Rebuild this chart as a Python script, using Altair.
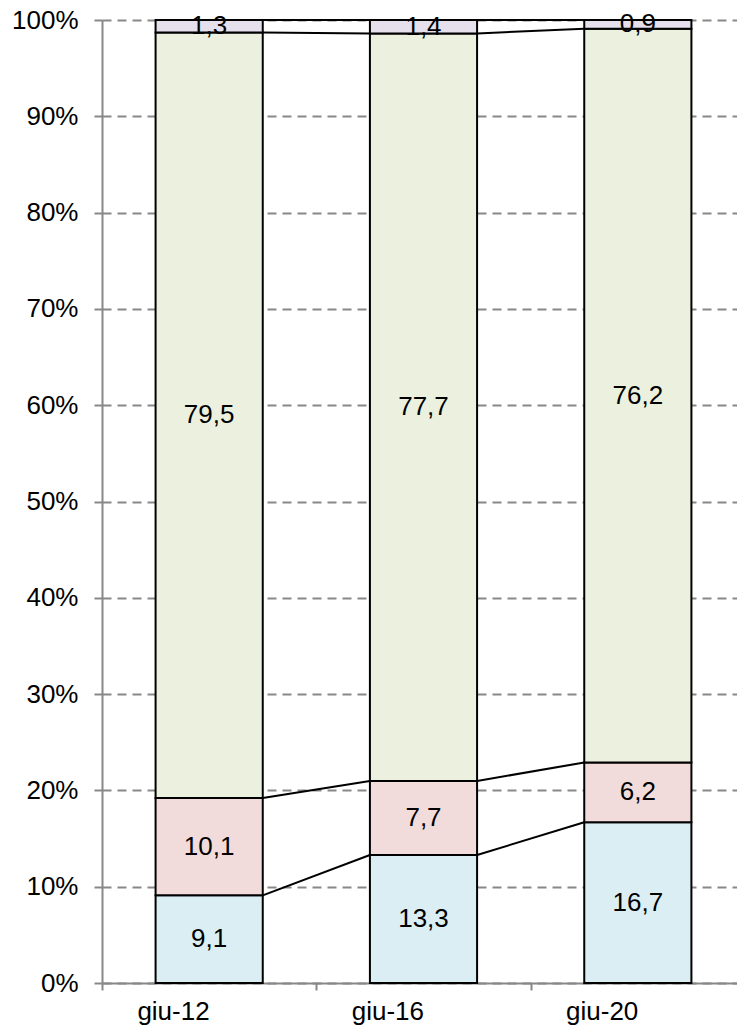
import altair as alt
import pandas as pd

categories = ["giu-12", "giu-16", "giu-20"]
series = ["Serie 1", "Serie 2", "Serie 3", "Serie 4"]  # bottom to top
values = {
    "Serie 1": [9.1, 13.3, 16.7],
    "Serie 2": [10.1, 7.7, 6.2],
    "Serie 3": [79.5, 77.7, 76.2],
    "Serie 4": [1.3, 1.4, 0.9],
}
colors = ["#DBEEF4", "#F2DCDB", "#EBF1DE", "#E5E0EC"]
y_ticks = [0, 0.1, 0.2, 0.3, 0.4, 0.5, 0.6, 0.7, 0.8, 0.9, 1.0]

FONT = "Liberation Sans"
FS = 26

# build segment table
rows = []
for ci, cat in enumerate(categories):
    total = sum(values[s][ci] for s in series)
    cum = 0.0
    for si, s in enumerate(series):
        v = values[s][ci]
        lo = cum / total
        cum += v
        hi = cum / total
        rows.append({
            "cat": cat, "series": s, "order": si, "value": v,
            "lo": lo, "hi": hi, "mid": (lo + hi) / 2,
            "label": f"{v:.1f}".replace(".", ","),
        })
seg = pd.DataFrame(rows)

# series lines between consecutive bars
lines = []
for s in series:
    sub = seg[seg.series == s].set_index("cat")
    for a, b in zip(categories[:-1], categories[1:]):
        lines.append({"cat": a, "next": b, "series": s,
                      "y": sub.loc[a, "hi"], "y2": sub.loc[b, "hi"]})
ldf = pd.DataFrame(lines)

xscale = alt.Scale(domain=categories, paddingInner=0, paddingOuter=0)
yscale = alt.Scale(domain=[0, 1], nice=False)

xaxis = alt.Axis(
    title=None, labelFont=FONT, labelFontSize=FS, labelColor="#000000",
    labelAngle=0, labelBaseline="alphabetic",
    domainColor="#888888", domainWidth=2, tickColor="#888888",
    tickSize=7, tickWidth=2, tickBand="extent", labelPadding=29, grid=False,
)
yaxis = alt.Axis(
    title=None, values=y_ticks, format=".0%", labelFont=FONT, labelFontSize=FS,
    labelColor="#000000", domainColor="#888888", domainWidth=2,
    tickColor="#888888", tickSize=8, tickWidth=2, labelPadding=16,
    grid=True, gridColor="#888888", gridDash=[9, 6], gridWidth=2,
)

base_bar = alt.Chart(seg)

bars = base_bar.mark_bar(stroke="#000000", strokeWidth=2, width={"band": 0.5}).encode(
    x=alt.X("cat:N", scale=xscale, axis=xaxis, sort=categories),
    y=alt.Y("lo:Q", scale=yscale, axis=yaxis),
    y2="hi:Q",
    color=alt.Color("series:N", scale=alt.Scale(domain=series, range=colors), legend=None),
)

texts = base_bar.mark_text(font=FONT, fontSize=FS, color="#000000", baseline="middle").encode(
    x=alt.X("cat:N", sort=categories),
    y=alt.Y("mid:Q"),
    text="label:N",
)

rules = alt.Chart(ldf).mark_rule(color="#000000", strokeWidth=2).encode(
    x=alt.X("cat:N", sort=categories, bandPosition=0.75),
    x2=alt.X2("next:N", bandPosition=0.25),
    y=alt.Y("y:Q"),
    y2="y2:Q",
)

chart = alt.layer(rules, bars, texts).properties(
    width=643, height=963,
    autosize=alt.AutoSizeParams(type="none"),
    padding={"left": 94, "top": 12, "right": -8, "bottom": 42},
).configure_view(stroke=None)

chart.save("out.html", embed_options={"renderer": "svg", "actions": False})
